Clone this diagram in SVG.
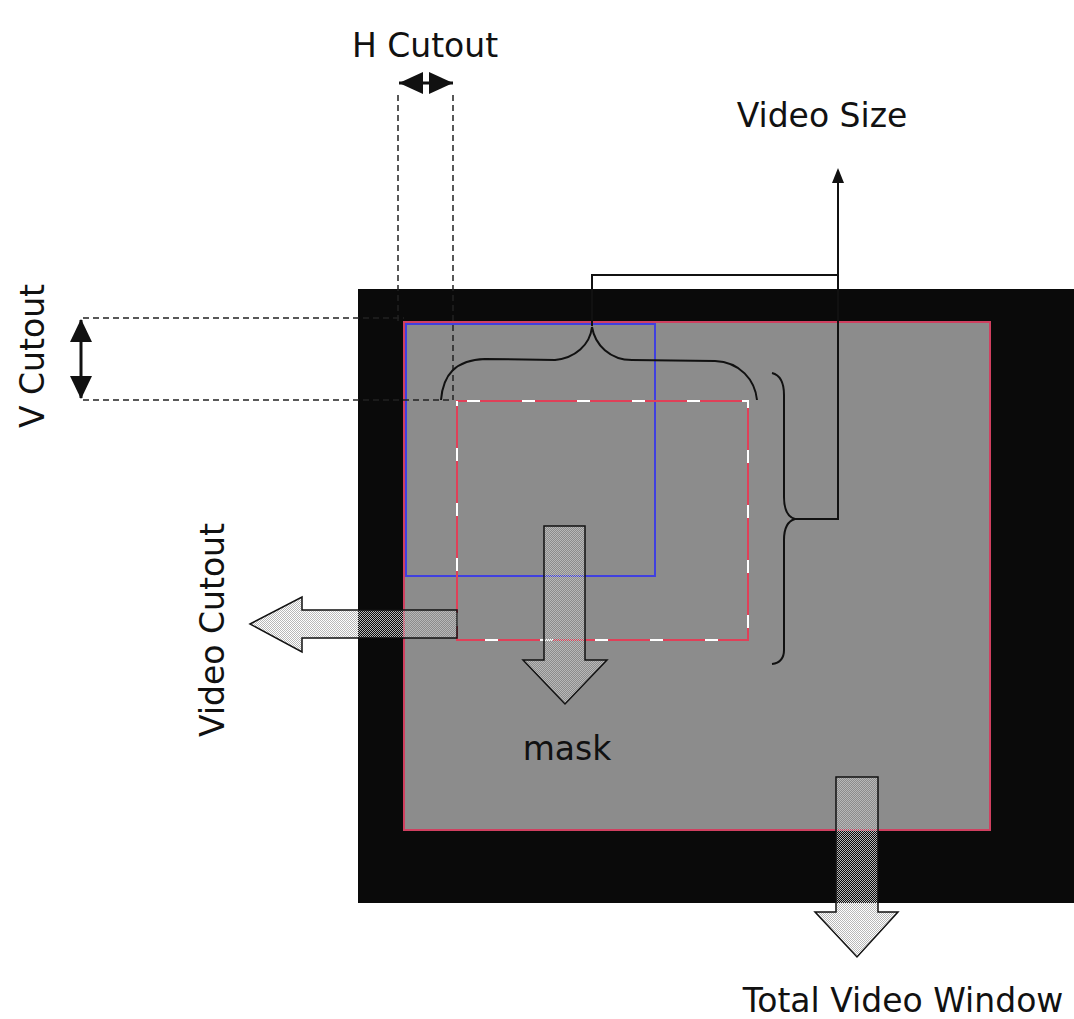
<svg xmlns="http://www.w3.org/2000/svg" width="1074" height="1019" viewBox="0 0 1074 1019">
<defs>
<pattern id="hatch" width="2" height="2" patternUnits="userSpaceOnUse">
<rect x="0" y="0" width="1" height="1" fill="#b8b8b8"/>
<rect x="1" y="1" width="1" height="1" fill="#b8b8b8"/>
</pattern>
</defs>
<style>
.lbl{font-family:"DejaVu Sans","Liberation Sans",sans-serif;font-size:33px;fill:#111;text-anchor:middle}
.dash{fill:none;stroke:#222;stroke-width:1.5;stroke-dasharray:6 4}
.ln{fill:none;stroke:#111;stroke-width:2}
.brace{fill:none;stroke:#111;stroke-width:2}
.bigarrow{fill:url(#hatch);stroke:#111;stroke-width:1.5}
.head{fill:#111;stroke:none}
</style>
<rect width="1074" height="1019" fill="#fff"/>

<g id="total-window">
<rect x="358" y="289" width="716" height="614" fill="#0a0a0a"/>
<rect x="404" y="322" width="586" height="508" fill="#8c8c8c" stroke="#d04060" stroke-width="2"/>
</g>
<g id="video-size-rect">
<rect x="406" y="324" width="249" height="252" fill="none" stroke="#4040e0" stroke-width="2"/>
</g>
<g id="video-cutout-rect">
<rect x="457" y="401" width="291" height="239" fill="none" stroke="#e04058" stroke-width="2"/>
<rect x="457" y="401" width="291" height="239" fill="none" stroke="#ffffff" stroke-width="2" stroke-dasharray="13 42" stroke-dashoffset="-10"/>
</g>

<g id="connectors">
<line class="dash" x1="398" y1="95" x2="398" y2="322"/>
<line class="dash" x1="453" y1="95" x2="453" y2="400"/>
<line class="dash" x1="83" y1="318" x2="404" y2="318"/>
<line class="dash" x1="83" y1="400" x2="453" y2="400"/>
<path class="brace" d="M441,400 C443,375 455,360 485,359 L555,360 C575,358 590,345 592,327 C595,345 610,360 632,360 L715,361 C740,362 755,380 757,400"/>
<path class="brace" d="M772,373 C780,375 784,382 784,395 L784,497 C784,510 788,517 795,519 C788,521 784,528 784,540 L784,650 C784,658 780,663 772,664"/>
<polyline class="ln" points="592,326 592,275 838,275"/>
<polyline class="ln" points="795,519 838,519 838,180"/>
<polygon class="head" points="838,168 832,183 844,183"/>
<line x1="399" y1="83" x2="453" y2="83" stroke="#111" stroke-width="3"/>
<polygon class="head" points="399,83 423,72 423,94"/>
<polygon class="head" points="453,83 429,72 429,94"/>
<line x1="81" y1="320" x2="81" y2="398" stroke="#111" stroke-width="3"/>
<polygon class="head" points="81,319 70,342 92,342"/>
<polygon class="head" points="81,399 70,376 92,376"/>
<polygon class="bigarrow" points="250,624 302,597 302,610 457,610 457,638 302,638 302,652"/>
<polygon class="bigarrow" points="544,526 585,526 585,660 607,660 565,704 523,660 544,660"/>
<polygon class="bigarrow" points="836,777 878,777 878,912 898,912 857,957 815,912 836,912"/>
</g>

<g id="labels">
<text class="lbl" x="425" y="57">H Cutout</text>
<text class="lbl" x="822" y="127">Video Size</text>
<text class="lbl" transform="translate(44,356) rotate(-90)">V Cutout</text>
<text class="lbl" transform="translate(224,630) rotate(-90)">Video Cutout</text>
<text class="lbl" x="567" y="760">mask</text>
<text class="lbl" x="903" y="1012">Total Video Window</text>
</g>
</svg>
